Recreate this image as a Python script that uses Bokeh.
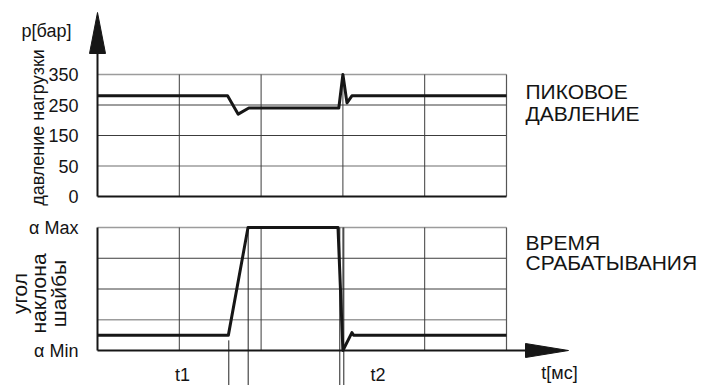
import math

from bokeh.embed import file_html
from bokeh.layouts import column
from bokeh.models import Label, Range1d
from bokeh.plotting import figure
from bokeh.resources import INLINE

# ---------------------------------------------------------------- data
# time is measured in grid divisions (5 divisions across each panel)
t_grid = [1, 2, 3, 4]
t_end = 5

# upper panel: load pressure, bar
t_pressure = [0.0, 1.59, 1.72, 1.85, 2.95, 3.00, 3.05, 3.11, 5.0]
p_load = [280, 280, 220, 240, 240, 350, 257, 280, 280]
p_ticks = [350, 250, 150, 50]
p_tick_labels = ["350", "250", "150", "50"]
p_base = -50          # zero baseline sits one step below 50 on this schematic axis
p_base_label = "0"
p_light = [350, 50]   # light grid rows
p_dark = [250, 150]   # dark grid rows

# lower panel: swash plate angle, alpha Min = 0 ... alpha Max = 4
t_angle = [0.0, 1.60, 1.84, 2.94, 3.00, 3.11, 3.13, 5.0]
swash = [0.5, 0.5, 4.0, 4.0, 0.0, 0.58, 0.5, 0.5]
a_ticks = [4, 0]
a_tick_labels = ["\u03b1 Max", "\u03b1 Min"]
a_light = [4, 1]
a_dark = [3, 2]

# switching instants marked below the time axis
t_marks = [1.605, 1.842, 2.962, 3.011]
t_mark_from = [0.33, 4, 4, 4]
t_names = ["t1", "t2"]
t_name_at = [1.04, 3.43]

# ---------------------------------------------------------------- layout
W = 706
TOP_H, BOT_H = 213, 172
PX_X0, PX_X5 = 97, 506            # panel left / right edge
PX_P350, PX_PBASE = 74, 196       # upper panel top / bottom (page px)
PX_AMAX, PX_AMIN = 227, 350       # lower panel top / bottom (page px)
PX_TICK_RIGHT = 78                # right edge of the tick labels

kx = (PX_X5 - PX_X0) / t_end
ky1 = (PX_PBASE - PX_P350) / (350 - p_base)
ky2 = (PX_AMIN - PX_AMAX) / 4.0


def xd(px):
    return (px - PX_X0) / kx


def yd1(py):
    return 350 - (py - PX_P350) / ky1


def yd2(py):
    return 4 - (py - PX_AMAX) / ky2


FONT = "Liberation Sans"
TXT = "#141414"
DARK = "#3c3c3c"
LIGHT = "#9c9c9c"
INK = "#161616"


def make_fig(height, y0, y1):
    p = figure(width=W, height=height, title=None,
               x_range=Range1d(xd(0), xd(W)), y_range=Range1d(y0, y1),
               output_backend="svg", toolbar_location=None,
               x_axis_location=None, y_axis_location=None,
               min_border_left=0, min_border_right=0,
               min_border_top=0, min_border_bottom=0)
    p.grid.visible = False
    p.outline_line_color = None
    p.background_fill_color = "white"
    p.border_fill_color = "white"
    return p


def label(p, x, y, text, size="18px", align="left", angle=0.0):
    p.add_layout(Label(x=x, y=y, text=text, text_font=FONT, text_font_size=size,
                       text_color=TXT, text_align=align, text_baseline="middle",
                       angle=angle))


def tick_labels(p, values, texts):
    for v, s in zip(values, texts):
        label(p, xd(PX_TICK_RIGHT), v, s, align="right")


# ---------------------------------------------------------------- upper panel
top = make_fig(TOP_H, yd1(TOP_H), yd1(0))

for yv in p_light:
    top.segment(0, yv, t_end, yv, line_color=LIGHT, line_width=1.6)
for yv in p_dark:
    top.segment(0, yv, t_end, yv, line_color=DARK, line_width=1)
for xv in t_grid:
    top.segment(xv, p_base, xv, 350, line_color=DARK, line_width=1)
top.segment(t_end, p_base, t_end, 350, line_color="#555555", line_width=1.2)
top.segment(0, p_base, t_end, p_base, line_color=INK, line_width=2)

# vertical axis with arrow head
top.segment(0, p_base, 0, yd1(50), line_color=INK, line_width=2)
top.patch([-8 / kx, 0, 8 / kx], [yd1(53), yd1(12), yd1(53)], fill_color=INK, line_color=INK)

top.line(t_pressure, p_load, line_color=INK, line_width=3, line_join="round")

tick_labels(top, p_ticks + [p_base], p_tick_labels + [p_base_label])
label(top, xd(21), yd1(30), "p[\u0431\u0430\u0440]")
label(top, xd(37.5), yd1(127), "\u0434\u0430\u0432\u043b\u0435\u043d\u0438\u0435 \u043d\u0430\u0433\u0440\u0443\u0437\u043a\u0438",
      size="18px", align="center", angle=math.pi / 2)
label(top, xd(525), yd1(91), "\u041f\u0418\u041a\u041e\u0412\u041e\u0415", size="21px")
label(top, xd(525), yd1(112.5), "\u0414\u0410\u0412\u041b\u0415\u041d\u0418\u0415", size="21px")

# ---------------------------------------------------------------- lower panel
bot = make_fig(BOT_H, yd2(TOP_H + BOT_H), yd2(TOP_H))

for yv in a_light:
    bot.segment(0, yv, t_end, yv, line_color=LIGHT, line_width=1.6)
for yv in a_dark:
    bot.segment(0, yv, t_end, yv, line_color=DARK, line_width=1)
for xv in t_grid:
    bot.segment(xv, 0, xv, 4, line_color=DARK, line_width=1)
bot.segment(t_end, 0, t_end, 4, line_color="#555555", line_width=1.2)
bot.segment(0, 0, 0, 4, line_color=INK, line_width=2)

# switching instants
bot.segment(t_marks, t_mark_from, t_marks, [yd2(TOP_H + BOT_H)] * len(t_marks),
            line_color="#222222", line_width=1)

# time axis with arrow head
bot.segment(0, 0, xd(527), 0, line_color=INK, line_width=2)
bot.patch([xd(525), xd(568), xd(525)], [7 / ky2, 0, -7 / ky2], fill_color=INK, line_color=INK)

bot.line(t_angle, swash, line_color=INK, line_width=3, line_join="round")

tick_labels(bot, a_ticks, a_tick_labels)
for name, tx in zip(t_names, t_name_at):
    label(bot, tx, yd2(374), name, align="center")
label(bot, xd(559), yd2(372), "t[\u043c\u0441]", align="center")

for i, line_txt in enumerate(["\u0443\u0433\u043e\u043b", "\u043d\u0430\u043a\u043b\u043e\u043d\u0430", "\u0448\u0430\u0439\u0431\u044b"]):
    label(bot, xd(18.5 + 19.5 * i), yd2(293), line_txt, size="21px", align="center", angle=math.pi / 2)

label(bot, xd(525), yd2(242), "\u0412\u0420\u0415\u041c\u042f", size="21px")
label(bot, xd(525), yd2(262), "\u0421\u0420\u0410\u0411\u0410\u0422\u042b\u0412\u0410\u041d\u0418\u042f", size="21px")

layout = column(top, bot, spacing=0)
open("out.html", "w").write(file_html(layout, INLINE))
